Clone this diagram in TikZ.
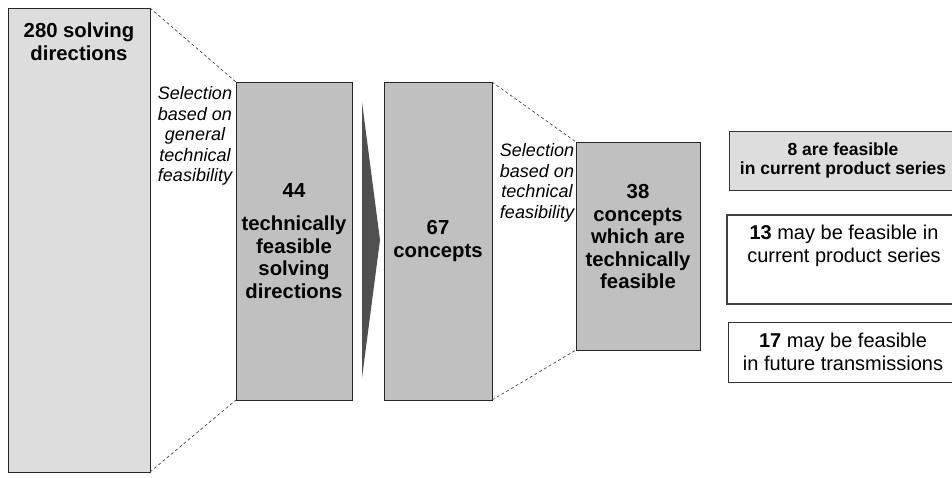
\documentclass[tikz,border=0pt]{standalone}
\usepackage{fontspec}
\setmainfont{Liberation Sans}
\usetikzlibrary{positioning,calc}
\definecolor{boxlight}{RGB}{221,221,221}
\definecolor{boxmid}{RGB}{192,192,192}
\definecolor{arrowdark}{RGB}{80,80,80}
\definecolor{linegray}{RGB}{70,70,70}

\begin{document}
\begin{tikzpicture}[x=1pt,y=-1pt,
  stage/.style={draw=black!85,fill=boxmid,line width=0.8pt,inner sep=0pt,outer sep=0pt,anchor=north west},
  big/.style={font=\bfseries\fontsize{20.3}{22.5}\selectfont,align=center,inner sep=0pt},
  note/.style={font=\itshape\fontsize{18}{20.5}\selectfont,align=center,inner sep=0pt},
  result/.style={draw=black!80,line width=0.8pt,inner sep=0pt,outer sep=0pt,anchor=north west},
  restext/.style={font=\fontsize{20}{22.5}\selectfont,align=center,inner sep=0pt},
  funnel/.style={draw=linegray,dash pattern=on 3pt off 2.5pt,line width=0.7pt}]
\useasboundingbox (0,0) rectangle (952,477);
\clip (0,0) rectangle (952,477);
% stages
\node[stage,fill=boxlight,minimum width=142pt,minimum height=464pt] (all) at (8,8) {};
\node[big,anchor=north] (allt) at ($(all.north)+(0,15)$) {280 solving\\directions};
\node[stage,minimum width=116pt,minimum height=318pt] (feas) at (236,82) {};
\node[big] (feast) at (feas.center) {44\\[11pt]technically\\feasible\\solving\\directions};
\node[stage,minimum width=108pt,minimum height=318pt] (conc) at (384,82) {};
\node[big] (conct) at (conc.center) {67\\concepts};
\node[stage,minimum width=124pt,minimum height=208pt] (tech) at (576,142) {};
\node[big] (techt) at ($(tech.center)+(0,-9)$) {38\\concepts\\which are\\technically\\feasible};
% selection notes
\node[note] (sel1) at (195,136) {Selection\\based on\\general\\technical\\feasibility};
\node[note] (sel2) at (537,183) {Selection\\based on\\technical\\feasibility};
\draw[funnel] (all.north east) -- (feas.north west);
\draw[funnel] (all.south east) -- (feas.south west);
\draw[funnel] (conc.north east) -- (tech.north west);
\draw[funnel] (conc.south east) -- (tech.south west);
% arrow between stages
\fill[arrowdark] (362,102) -- (380,240) -- (362,378) -- cycle;
% results
\node[result,fill=boxlight,minimum width=228pt,minimum height=59pt] (r8) at (729,131) {};
\node[font=\bfseries\fontsize{17.5}{19}\selectfont,align=center,inner sep=0pt] (r8t) at (r8.center) {8 are feasible\\in current product series};
\node[result,draw=black!75,line width=2.5pt,minimum width=234pt,minimum height=89pt] (r13) at (727,215) {};
\node[restext,anchor=north] (r13t) at ($(r13.north)+(0,10)$) {\textbf{13} may be feasible in\\current product series};
\node[result,minimum width=230pt,minimum height=60pt] (r17) at (728,322) {};
\node[restext] (r17t) at (r17.center) {\textbf{17} may be feasible\\in future transmissions};
\end{tikzpicture}
\end{document}
